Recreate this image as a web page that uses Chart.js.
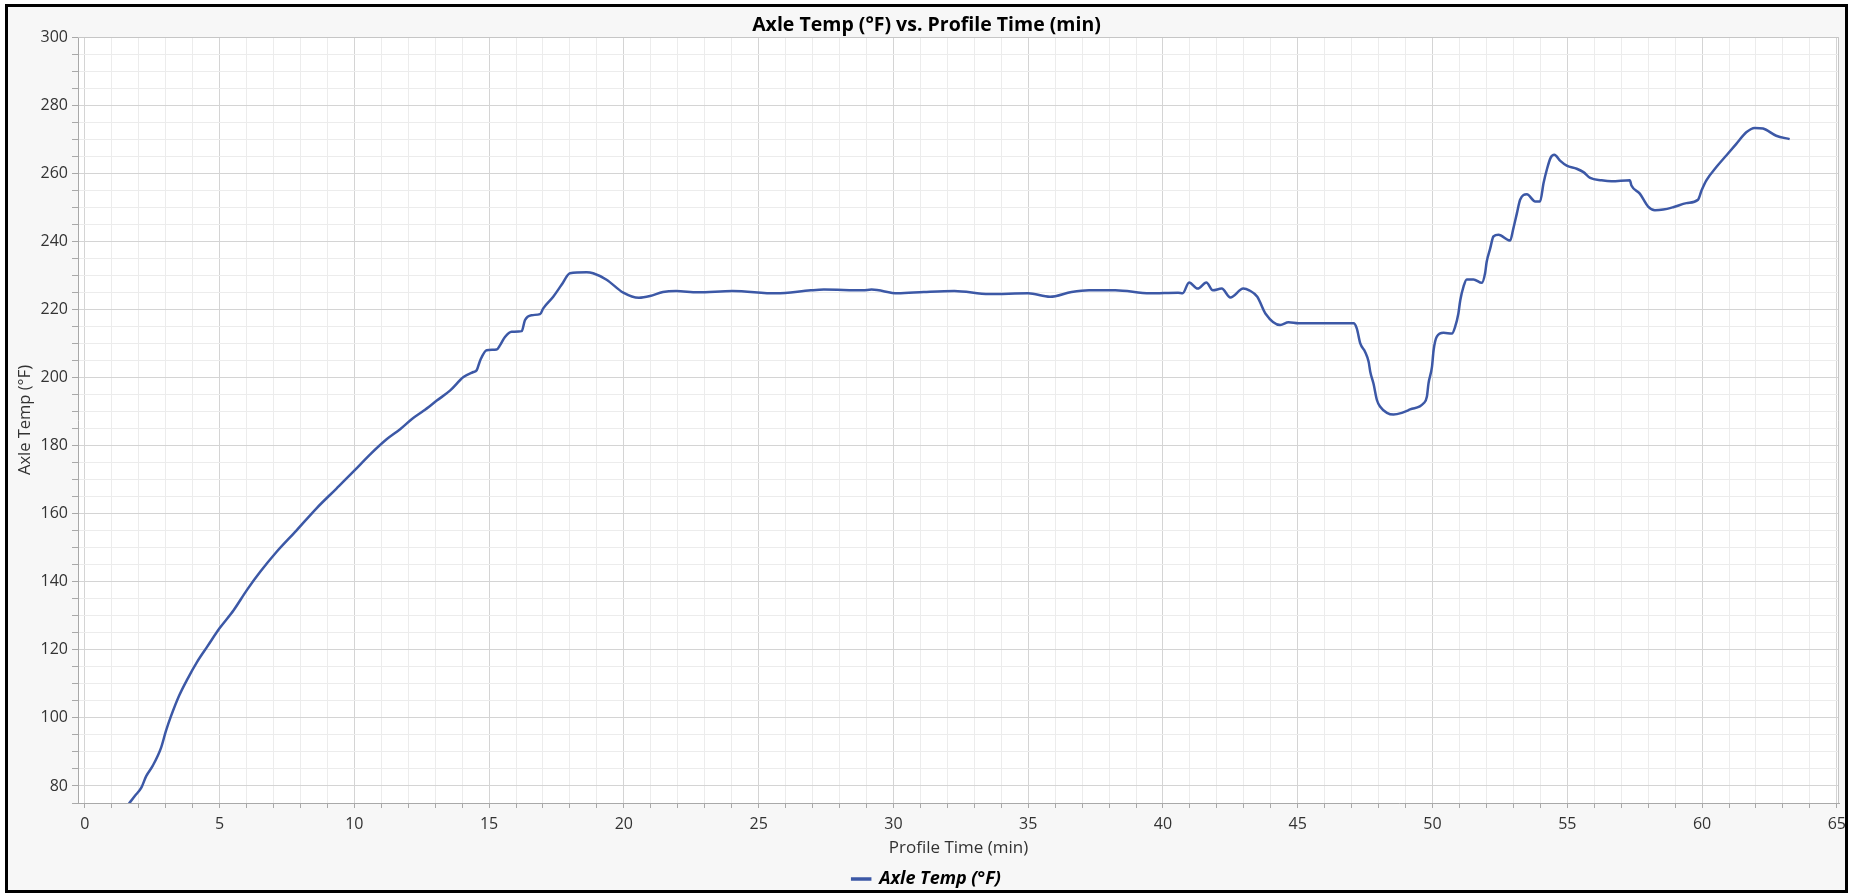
<!DOCTYPE html>
<html>
<head>
<meta charset="utf-8">
<title>Axle Temp vs. Profile Time</title>
<script src="https://cdn.jsdelivr.net/npm/chart.js@4/dist/chart.umd.min.js"></script>
<style>
  html, body { margin: 0; padding: 0; background: #ffffff; }
  #frame {
    position: absolute; left: 5px; top: 4px;
    width: 1837px; height: 883px;
    border: 3px solid #000000;
    background: #f7f7f7;
  }
  #chart { display: block; }
</style>
</head>
<body>
<div id="frame"><canvas id="chart" width="1837" height="883"></canvas></div>
<script>
// ── DATA ──────────────────────────────────────────────────────
const chartTitle = 'Axle Temp (°F) vs. Profile Time (min)';
const seriesName = 'Axle Temp (°F)';
const xTitle = 'Profile Time (min)';

// profile time, minutes
const profileTime = [
  1.62, 1.85, 2.10, 2.28, 2.52, 2.83, 3.01, 3.20, 3.50, 3.81,
  4.18, 4.55, 5.00, 5.53, 6.02, 6.51, 7.12, 7.86, 8.59, 9.33,
  10.00, 10.59, 11.21, 11.70, 12.14, 12.57, 13.06, 13.56, 14.05, 14.42,
  14.54, 14.67, 14.91, 15.28, 15.41, 15.59, 15.84, 16.21, 16.33, 16.58,
  16.89, 17.01, 17.38, 17.69, 18.00, 18.62, 18.86, 19.36, 19.98, 20.56,
  20.97, 21.45, 21.94, 22.74, 24.03, 25.65, 26.94, 27.42, 28.87, 29.19,
  30.16, 31.13, 32.26, 33.55, 35.00, 35.81, 36.61, 37.26, 38.23, 39.52,
  40.56, 40.73, 40.97, 41.29, 41.61, 41.85, 42.18, 42.50, 42.98, 43.20,
  43.50, 43.80, 44.35, 44.66, 45.03, 47.07, 47.19, 47.32, 47.50, 47.63,
  47.69, 47.81, 47.94, 48.06, 48.31, 48.55, 48.86, 49.17, 49.67, 49.79,
  49.85, 49.98, 50.04, 50.16, 50.41, 50.72, 50.84, 50.96, 51.03, 51.15,
  51.27, 51.52, 51.83, 51.95, 52.01, 52.14, 52.26, 52.45, 52.88, 53.00,
  53.13, 53.25, 53.50, 53.81, 53.99, 54.12, 54.24, 54.38, 54.52, 54.73,
  54.98, 55.35, 55.60, 55.85, 56.27, 56.64, 57.32, 57.38, 57.69, 58.00,
  58.25, 58.56, 58.93, 59.42, 59.85, 59.98, 60.16, 60.53, 60.90, 61.27,
  61.64, 61.95, 62.26, 62.75, 63.25
];

// axle temperature, °F
const axleTemp = [
  74.6, 77.0, 79.5, 82.9, 85.9, 91.2, 96.1, 100.5, 106.5, 111.4,
  116.6, 121.0, 126.3, 131.7, 137.6, 142.9, 148.8, 155.1, 161.5, 167.3,
  172.6, 177.4, 181.9, 184.8, 187.8, 190.2, 193.2, 196.2, 200.1, 201.6,
  202.1, 205.0, 208.0, 208.2, 209.5, 211.9, 213.4, 213.6, 216.8, 218.3,
  218.6, 220.3, 223.7, 227.2, 230.6, 230.9, 230.6, 228.7, 224.9, 223.4,
  223.9, 225.1, 225.4, 225.0, 225.4, 224.7, 225.6, 225.8, 225.6, 225.8,
  224.7, 225.1, 225.4, 224.5, 224.7, 223.7, 225.1, 225.6, 225.6, 224.7,
  224.9, 224.7, 227.9, 226.1, 227.9, 225.6, 226.1, 223.5, 226.1, 225.6,
  223.7, 218.8, 215.4, 216.2, 215.9, 215.9, 214.4, 210.0, 207.5, 204.6,
  201.7, 198.2, 193.3, 191.4, 189.6, 189.1, 189.6, 190.6, 192.4, 194.3,
  198.2, 203.1, 208.0, 212.0, 213.1, 212.9, 214.9, 218.8, 222.7, 226.7,
  228.8, 228.8, 227.8, 230.6, 234.0, 237.9, 241.4, 241.9, 240.2, 243.8,
  248.2, 252.2, 253.8, 251.7, 251.7, 257.1, 261.0, 264.5, 265.4, 263.7,
  262.2, 261.3, 260.3, 258.6, 257.9, 257.6, 257.9, 256.4, 254.0, 250.2,
  249.1, 249.3, 250.0, 251.2, 252.2, 254.9, 257.9, 261.8, 265.2, 268.6,
  272.0, 273.3, 273.1, 271.0, 270.0
];

// axis ranges: minor step / labelled step
const xMin = -0.25, xMax = 65.08, xMinor = 1, xMajor = 5;
const yMin = 75, yMax = 300, yMinor = 5, yMajor = 20;

// ── STYLE ─────────────────────────────────────────────────────
const LINE_BLUE = '#3c58a6';
const GRID_MAJOR = '#d4d4d4';
const GRID_MINOR = '#ececec';
const AXIS_GRAY = '#a9a9a9';
const TEXT_DARK = '#333333';

Chart.defaults.font.family = "'Open Sans', 'Noto Sans', sans-serif";
Chart.defaults.font.size = 16;
Chart.defaults.color = TEXT_DARK;

// white plot area plus a thin frame round it
const plotFrame = {
  id: 'plotFrame',
  beforeDraw(chart) {
    const { ctx, chartArea: a } = chart;
    ctx.save();
    ctx.fillStyle = '#ffffff';
    ctx.fillRect(a.left, a.top, a.right - a.left, a.bottom - a.top);
    ctx.restore();
  },
  beforeDatasetsDraw(chart) {
    const { ctx, chartArea: a } = chart;
    ctx.save();
    ctx.strokeStyle = '#c6c6c6';
    ctx.lineWidth = 1;
    ctx.beginPath();
    ctx.moveTo(a.left, a.top + 0.5);
    ctx.lineTo(a.right - 0.5, a.top + 0.5);
    ctx.lineTo(a.right - 0.5, a.bottom);
    ctx.stroke();
    ctx.restore();
  }
};

const isMultiple = (v, step) => Math.abs(v / step - Math.round(v / step)) < 1e-6;

new Chart(document.getElementById('chart'), {
  type: 'line',
  data: {
    datasets: [{
      label: seriesName,
      data: profileTime.map((t, i) => ({ x: t, y: axleTemp[i] })),
      borderColor: LINE_BLUE,
      backgroundColor: LINE_BLUE,
      borderWidth: 2.5,
      pointRadius: 0,
      cubicInterpolationMode: 'monotone'
    }]
  },
  options: {
    responsive: false,
    animation: false,
    layout: { padding: { top: 0, left: 0, right: 0, bottom: -8 } },
    plugins: {
      title: {
        display: true,
        text: chartTitle,
        color: '#000000',
        font: { size: 19.5, weight: 'bold' },
        padding: { top: 6.5, bottom: 0.1 }
      },
      legend: {
        position: 'bottom',
        labels: {
          color: '#000000',
          font: { size: 18, weight: 'bold', style: 'italic' },
          boxWidth: 18,
          boxHeight: 1,
          padding: 10
        }
      },
      tooltip: { enabled: false }
    },
    scales: {
      x: {
        type: 'linear',
        min: xMin,
        max: xMax,
        afterFit(scale) {
          scale.height = 57;
          scale.paddingLeft = 0;
          scale.paddingRight = 6;
        },
        ticks: {
          stepSize: xMinor,
          autoSkip: false,
          maxRotation: 0,
          includeBounds: false,
          padding: 6.4,
          color: TEXT_DARK,
          callback: v => isMultiple(v, xMajor) ? String(Math.round(v)) : ''
        },
        grid: {
          color: c => c.tick && isMultiple(c.tick.value, xMajor) ? GRID_MAJOR : GRID_MINOR,
          tickColor: AXIS_GRAY,
          tickLength: 5
        },
        border: { display: true, color: AXIS_GRAY, width: 1 },
        title: {
          display: true,
          text: xTitle,
          color: TEXT_DARK,
          font: { size: 17 },
          padding: { top: 0, bottom: 1.8 }
        }
      },
      y: {
        type: 'linear',
        min: yMin,
        max: yMax,
        afterFit(scale) {
          scale.width = 70;
        },
        ticks: {
          stepSize: yMinor,
          autoSkip: false,
          includeBounds: false,
          padding: 4,
          color: TEXT_DARK,
          callback: v => isMultiple(v, yMajor) ? String(Math.round(v)) : ''
        },
        grid: {
          color: c => c.tick && isMultiple(c.tick.value, yMajor) ? GRID_MAJOR : GRID_MINOR,
          tickColor: AXIS_GRAY,
          tickLength: 6
        },
        border: { display: true, color: AXIS_GRAY, width: 1 },
        title: {
          display: true,
          text: seriesName,
          color: TEXT_DARK,
          font: { size: 16.5 },
          padding: { top: 7.1, bottom: 0 }
        }
      }
    }
  },
  plugins: [plotFrame]
});
</script>
</body>
</html>
